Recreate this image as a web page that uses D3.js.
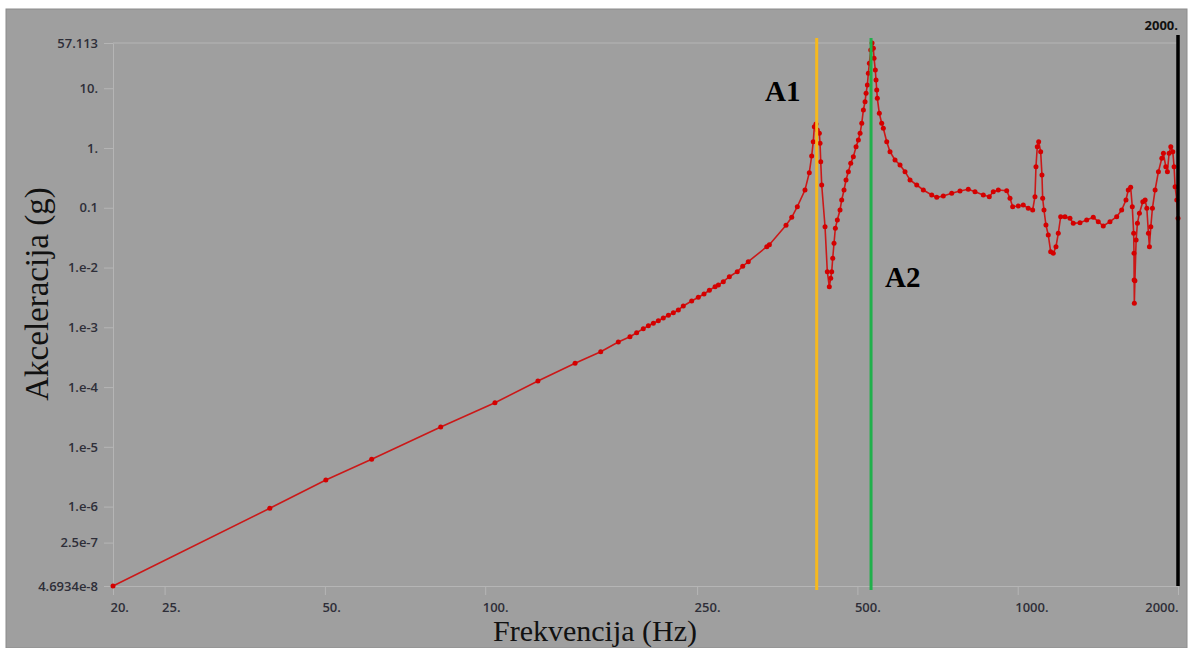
<!DOCTYPE html>
<html>
<head>
<meta charset="utf-8">
<script src="https://cdn.jsdelivr.net/npm/d3@7"></script>
<style>
html,body{margin:0;padding:0;background:#ffffff;}
svg{display:block;}
</style>
</head>
<body>
<script>
// ---------- data ----------
const freqHz = [20, 39.4, 50.2, 61.2, 82.5, 104.3, 125.6, 147.5, 164.8, 177.8, 187.0, 192.5, 198.1, 202.5, 206.9, 211.4, 216.0, 220.8, 225.6, 230.5, 235.5, 244.2, 251.3, 257.6, 263.6, 270.2, 274.1, 280.0, 287.4, 297.4, 304.5, 311.9, 337.9, 341.7, 367.2, 376.4, 385.6, 398.6, 406.1, 410.3, 413.1, 415.0, 418.0, 420.4, 424.1, 425.4, 426.7, 428.5, 434.7, 439.0, 442.8, 445.5, 447.4, 449.4, 451.9, 454.5, 458.4, 463.8, 467.2, 471.9, 476.0, 480.8, 485.8, 491.3, 497.1, 502.1, 505.8, 509.5, 513.1, 516.8, 519.1, 522.0, 524.2, 526.5, 529.7, 532.7, 535.7, 537.3, 540.3, 541.9, 543.6, 545.0, 549.7, 555.4, 559.3, 567.6, 575.7, 588.3, 601.2, 614.3, 627.7, 646.2, 664.9, 689.5, 704.6, 724.9, 751.7, 779.1, 807.6, 831.4, 861.8, 884.4, 899.8, 919.5, 953.5, 967.2, 978.5, 1002.5, 1024.4, 1046.8, 1066.9, 1077.5, 1082.2, 1088.3, 1094.9, 1104.4, 1110.6, 1114.0, 1120.3, 1130.0, 1141.3, 1153.2, 1166.3, 1180.0, 1191.8, 1204.2, 1226.8, 1253.6, 1271.6, 1309.0, 1347.5, 1386.5, 1416.8, 1447.8, 1490.3, 1534.2, 1567.7, 1597.1, 1613.0, 1629.9, 1641.2, 1651.2, 1653.5, 1654.5, 1655.8, 1660.0, 1668.7, 1678.1, 1692.7, 1717.8, 1735.0, 1747.8, 1759.9, 1767.5, 1778.2, 1790.6, 1811.6, 1837.6, 1864.8, 1877.7, 1897.3, 1910.5, 1924.5, 1938.7, 1955.5, 1966.5, 1975.0, 1989.6, 2000];
const accelG = [4.6934e-8, 9.37e-7, 2.79e-6, 6.19e-6, 2.15e-5, 5.48e-5, 1.264e-4, 2.50e-4, 3.91e-4, 5.68e-4, 6.97e-4, 8.12e-4, 9.48e-4, 1.064e-3, 1.167e-3, 1.290e-3, 1.431e-3, 1.588e-3, 1.755e-3, 1.949e-3, 2.273e-3, 2.755e-3, 3.178e-3, 3.608e-3, 4.161e-3, 4.780e-3, 5.103e-3, 5.795e-3, 7.012e-3, 8.516e-3, 1.049e-2, 1.252e-2, 2.232e-2, 2.411e-2, 5.089e-2, 6.928e-2, 0.1042, 0.1983, 0.3862, 0.7348, 1.2745, 2.272, 2.520, 2.000, 1.762, 1.198, 0.5898, 0.2404, 0.04824, 0.008516, 0.004779, 0.006606, 0.008516, 0.01428, 0.02544, 0.04534, 0.06242, 0.09177, 0.1349, 0.1983, 0.2914, 0.4014, 0.5546, 0.7153, 1.0513, 1.361, 1.762, 2.589, 4.322, 5.953, 8.227, 11.32, 17.77, 26.13, 43.62, 57.113, 46.57, 31.68, 20.18, 13.73, 9.340, 6.785, 3.806, 2.589, 2.136, 1.2745, 0.8670, 0.6298, 0.5194, 0.4014, 0.2914, 0.2404, 0.1983, 0.1635, 0.1496, 0.1573, 0.1746, 0.1908, 0.2037, 0.1857, 0.1635, 0.1531, 0.1857, 0.1983, 0.1930, 0.1440, 0.1042, 0.1071, 0.1112, 0.0980, 0.0918, 0.1531, 0.4866, 1.0513, 1.2745, 0.8670, 0.3534, 0.1440, 0.0918, 0.05148, 0.03502, 0.01840, 0.01730, 0.02232, 0.03739, 0.07089, 0.07089, 0.06664, 0.05497, 0.05625, 0.06242, 0.06927, 0.05845, 0.04955, 0.05845, 0.07089, 0.0918, 0.1349, 0.1983, 0.2200, 0.1042, 0.03739, 0.0173, 0.00619, 0.00252, 0.0060, 0.02889, 0.05497, 0.08079, 0.1263, 0.1349, 0.0980, 0.03739, 0.02232, 0.04824, 0.0980, 0.1983, 0.4014, 0.6726, 0.8153, 0.4866, 0.4014, 0.8153, 1.0513, 0.8670, 0.4866, 0.2252, 0.1349, 0.0666];

const xTickValues = [20, 25, 50, 100, 250, 500, 1000, 2000];
const xTickLabels = ["20.", "25.", "50.", "100.", "250.", "500.", "1000.", "2000."];
const yTickValues = [57.113, 10, 1, 0.1, 0.01, 0.001, 1e-4, 1e-5, 1e-6, 2.5e-7, 4.6934e-8];
const yTickLabels = ["57.113", "10.", "1.", "0.1", "1.e-2", "1.e-3", "1.e-4", "1.e-5", "1.e-6", "2.5e-7", "4.6934e-8"];

const markerFreqs = [419.3, 530.4];
const markerLabels = ["A1", "A2"];
const markerColors = ["#f6b91e", "#20b04b"];
const endFreq = 2000;
const endLabel = "2000.";

const xTitle = "Frekvencija (Hz)";
const yTitle = "Akceleracija (g)";

// ---------- layout ----------
const W = 1188, H = 648;
const svg = d3.select("body").append("svg").attr("width", W).attr("height", H);

svg.append("rect").attr("x", 6).attr("y", 9).attr("width", W - 7).attr("height", H - 9)
  .attr("fill", "#9f9f9f").attr("stroke", "#8c8c8c").attr("stroke-width", 1);

const x = d3.scaleLog().domain([20, 2000]).range([113, 1178]);
const y = d3.scaleLog().domain([4.6934e-8, 57.113]).range([586, 43]);

const gridColor = "#b5b5b5";
const tickFont = "'Open Sans', 'DejaVu Sans', sans-serif";
const tickSize = 13;

// top grid line
svg.append("line").attr("x1", x(20)).attr("x2", x(2000)).attr("y1", y(57.113)).attr("y2", y(57.113))
  .attr("stroke", gridColor).attr("stroke-width", 1);

// y axis
const gy = svg.append("g").attr("transform", `translate(${x(20)},0)`)
  .call(d3.axisLeft(y).tickValues(yTickValues).tickFormat((d, i) => yTickLabels[i]).tickSize(9).tickPadding(6).tickSizeOuter(0));
gy.select(".domain").attr("stroke", gridColor);
gy.selectAll(".tick line").attr("stroke", gridColor);
gy.selectAll(".tick text").attr("fill", "#2e2e38").attr("font-family", tickFont)
  .attr("font-size", tickSize).attr("font-weight", 600);

// x axis
const gx = svg.append("g").attr("transform", `translate(0,${y(4.6934e-8)})`)
  .call(d3.axisBottom(x).tickValues(xTickValues).tickFormat((d, i) => xTickLabels[i]).tickSize(9).tickPadding(8).tickSizeOuter(0));
gx.select(".domain").attr("stroke", gridColor);
gx.selectAll(".tick line").attr("stroke", gridColor);
gx.selectAll(".tick text").attr("fill", "#2e2e38").attr("font-family", tickFont)
  .attr("font-size", tickSize).attr("font-weight", 600)
  .attr("text-anchor", (d, i) => i === xTickValues.length - 1 ? "end" : "start")
  .attr("dx", (d, i) => i === xTickValues.length - 1 ? 0 : -3);

// curve
const pts = freqHz.map((f, i) => [f, accelG[i]]);
const line = d3.line().x(d => x(d[0])).y(d => y(d[1]));
svg.append("path").datum(pts).attr("d", line).attr("fill", "none")
  .attr("stroke", "#d20000").attr("stroke-width", 1.6).attr("stroke-opacity", 0.85);
svg.append("g").selectAll("circle").data(pts).join("circle")
  .attr("cx", d => x(d[0])).attr("cy", d => y(d[1])).attr("r", 2.5).attr("fill", "#d40000");

// marker lines
markerFreqs.forEach((f, i) => {
  svg.append("line").attr("x1", x(f)).attr("x2", x(f)).attr("y1", 38).attr("y2", 590)
    .attr("stroke", markerColors[i]).attr("stroke-width", 3);
});
// end line
svg.append("line").attr("x1", x(endFreq)).attr("x2", x(endFreq)).attr("y1", 35).attr("y2", y(4.6934e-8))
  .attr("stroke", "#000").attr("stroke-width", 3.5);
svg.append("text").attr("x", x(endFreq)).attr("y", 30).attr("text-anchor", "end")
  .attr("font-family", tickFont).attr("font-size", tickSize).attr("font-weight", 700).attr("fill", "#111")
  .text(endLabel);

// marker labels
const labelPos = [[765, 101], [885, 287]];
markerLabels.forEach((t, i) => {
  svg.append("text").attr("x", labelPos[i][0]).attr("y", labelPos[i][1])
    .attr("font-family", "'Liberation Serif', 'Times New Roman', serif").attr("font-weight", 700)
    .attr("font-size", 29).attr("fill", "#000").text(t);
});

// axis titles
svg.append("text").attr("x", 595).attr("y", 641).attr("text-anchor", "middle")
  .attr("font-family", "'Liberation Serif', 'Times New Roman', serif").attr("font-size", 30)
  .attr("fill", "#111").text(xTitle);
svg.append("text").attr("transform", "translate(48,294) rotate(-90)").attr("text-anchor", "middle")
  .attr("font-family", "'Liberation Serif', 'Times New Roman', serif").attr("font-size", 33)
  .attr("fill", "#111").text(yTitle);
</script>
</body>
</html>
